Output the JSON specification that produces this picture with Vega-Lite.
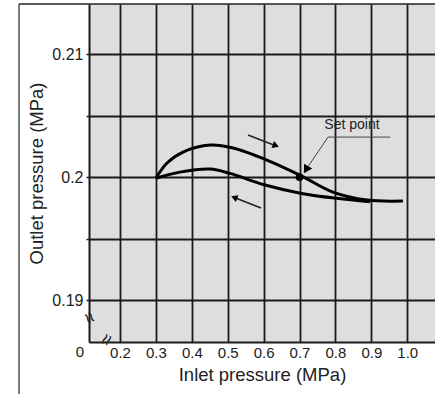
{
  "$schema": "https://vega.github.io/schema/vega-lite/v6.json",
  "width": 346,
  "height": 338,
  "autosize": "none",
  "padding": {"left": 89, "top": 4, "right": 0, "bottom": 52},
  "background": "white",
  "config": {
    "view": {"fill": "#dedede", "stroke": null},
    "font": "Liberation Sans"
  },
  "datasets": {
    "curves": [
      {"branch": "up", "x": 0.3, "y": 0.1999},
      {"branch": "up", "x": 0.331, "y": 0.20114},
      {"branch": "up", "x": 0.3755, "y": 0.20203},
      {"branch": "up", "x": 0.451, "y": 0.2026},
      {"branch": "up", "x": 0.515, "y": 0.20236},
      {"branch": "up", "x": 0.609, "y": 0.20138},
      {"branch": "up", "x": 0.705, "y": 0.2001},
      {"branch": "up", "x": 0.793, "y": 0.19878},
      {"branch": "up", "x": 0.888, "y": 0.19813},
      {"branch": "up", "x": 0.988, "y": 0.19805},
      {"branch": "down", "x": 0.3, "y": 0.1999},
      {"branch": "down", "x": 0.367, "y": 0.2004},
      {"branch": "down", "x": 0.451, "y": 0.20065},
      {"branch": "down", "x": 0.506, "y": 0.2003},
      {"branch": "down", "x": 0.604, "y": 0.19935},
      {"branch": "down", "x": 0.706, "y": 0.19867},
      {"branch": "down", "x": 0.804, "y": 0.19827},
      {"branch": "down", "x": 0.896, "y": 0.198}
    ]
  },
  "layer": [
    {
      "data": {"values": [{"x": -0.0813, "y": 0.18236, "y2": 0.21407}]},
      "mark": {"type": "rule", "color": "#222", "strokeWidth": 1.2, "clip": false},
      "encoding": {
        "x": {"field": "x", "type": "quantitative", "scale": {"domain": [0.1136, 1.0774], "zero": false, "nice": false},
          "axis": {"values": [0.2, 0.3, 0.4, 0.5, 0.6, 0.7, 0.8, 0.9, 1.0], "format": ".1f", "title": "Inlet pressure (MPa)",
            "grid": true, "gridColor": "#1a1a1a", "gridWidth": 1.8, "domainColor": "#1a1a1a", "domainWidth": 2,
            "ticks": false, "labelPadding": 3, "labelFontSize": 15, "labelColor": "#222",
            "titleFontSize": 18.5, "titleFontWeight": "normal", "titleColor": "#222", "titlePadding": 5}},
        "y": {"field": "y", "type": "quantitative", "scale": {"domain": [0.18659, 0.21407], "zero": false, "nice": false},
          "axis": {"values": [0.19, 0.195, 0.2, 0.205, 0.21],
            "labelExpr": "(datum.value > 0.194 && datum.value < 0.196) || (datum.value > 0.204 && datum.value < 0.206) ? '' : format(datum.value, '.2~f')",
            "title": "Outlet pressure (MPa)",
            "grid": true, "gridColor": "#1a1a1a", "gridWidth": 1.8, "domainColor": "#1a1a1a", "domainWidth": 2,
            "ticks": true, "tickSize": 3, "tickColor": "#1a1a1a", "tickWidth": 1.5,
            "labelPadding": 3, "labelFontSize": 16, "labelColor": "#222",
            "titleFontSize": 18.5, "titleFontWeight": "normal", "titleColor": "#222", "titlePadding": 5}},
        "y2": {"field": "y2"}
      }
    },
    {
      "data": {"values": [{"x": -0.0813, "x2": 1.0774, "y": 0.21407}]},
      "mark": {"type": "rule", "color": "#222", "strokeWidth": 1.5, "clip": false},
      "encoding": {
        "x": {"field": "x", "type": "quantitative"},
        "x2": {"field": "x2"},
        "y": {"field": "y", "type": "quantitative"}
      }
    },
    {
      "data": {"name": "curves"},
      "mark": {"type": "line", "color": "black", "strokeWidth": 3, "interpolate": "catmull-rom"},
      "encoding": {
        "x": {"field": "x", "type": "quantitative"},
        "y": {"field": "y", "type": "quantitative"},
        "detail": {"field": "branch"}
      }
    },
    {
      "data": {"values": [{"x": 0.7, "y": 0.2}]},
      "mark": {"type": "point", "filled": true, "color": "black", "size": 60, "opacity": 1},
      "encoding": {
        "x": {"field": "x", "type": "quantitative"},
        "y": {"field": "y", "type": "quantitative"}
      }
    },
    {
      "data": {"values": [
        {"seg": "a", "x": 0.5565, "y": 0.20341, "x2": 0.632, "y2": 0.20257},
        {"seg": "b", "x": 0.593, "y": 0.19748, "x2": 0.52, "y2": 0.19832}
      ]},
      "mark": {"type": "rule", "color": "#222", "strokeWidth": 1.6},
      "encoding": {
        "x": {"field": "x", "type": "quantitative"},
        "y": {"field": "y", "type": "quantitative"},
        "x2": {"field": "x2"},
        "y2": {"field": "y2"}
      }
    },
    {
      "data": {"values": [{"x": 0.634, "y": 0.20255}]},
      "mark": {"type": "point", "shape": "triangle-right", "angle": 21, "filled": true, "color": "black", "size": 55, "opacity": 1},
      "encoding": {
        "x": {"field": "x", "type": "quantitative"},
        "y": {"field": "y", "type": "quantitative"}
      }
    },
    {
      "data": {"values": [{"x": 0.518, "y": 0.19834}]},
      "mark": {"type": "point", "shape": "triangle-left", "angle": 21, "filled": true, "color": "black", "size": 55, "opacity": 1},
      "encoding": {
        "x": {"field": "x", "type": "quantitative"},
        "y": {"field": "y", "type": "quantitative"}
      }
    },
    {
      "data": {"values": [
        {"o": 1, "x": 0.9526, "y": 0.20325},
        {"o": 2, "x": 0.7794, "y": 0.20325},
        {"o": 3, "x": 0.725, "y": 0.2009}
      ]},
      "mark": {"type": "line", "color": "#444", "strokeWidth": 1},
      "encoding": {
        "x": {"field": "x", "type": "quantitative"},
        "y": {"field": "y", "type": "quantitative"},
        "order": {"field": "o"}
      }
    },
    {
      "data": {"values": [{"x": 0.718, "y": 0.2006}]},
      "mark": {"type": "point", "shape": "triangle-down", "angle": 31, "filled": true, "color": "black", "size": 90, "opacity": 1},
      "encoding": {
        "x": {"field": "x", "type": "quantitative"},
        "y": {"field": "y", "type": "quantitative"}
      }
    },
    {
      "data": {"values": [{"x": 0.846, "y": 0.20423, "t": "Set point"}]},
      "mark": {"type": "text", "fontSize": 14, "color": "#222", "align": "center", "baseline": "middle"},
      "encoding": {
        "x": {"field": "x", "type": "quantitative"},
        "y": {"field": "y", "type": "quantitative"},
        "text": {"field": "t"}
      }
    },
    {
      "data": {"values": [{"x": 0.0886, "y": 0.18577, "t": "0"}]},
      "mark": {"type": "text", "fontSize": 15, "color": "#222", "align": "center", "baseline": "middle", "clip": false},
      "encoding": {
        "x": {"field": "x", "type": "quantitative"},
        "y": {"field": "y", "type": "quantitative"},
        "text": {"field": "t"}
      }
    },
    {
      "data": {"values": [{"x": 0.1136, "y": 0.18854, "t": "≈"}]},
      "mark": {"type": "text", "fontSize": 20, "color": "#222", "align": "center", "baseline": "middle", "angle": 60, "clip": false},
      "encoding": {
        "x": {"field": "x", "type": "quantitative"},
        "y": {"field": "y", "type": "quantitative"},
        "text": {"field": "t"}
      }
    },
    {
      "data": {"values": [{"x": 0.1638, "y": 0.18675, "t": "≈"}]},
      "mark": {"type": "text", "fontSize": 20, "color": "#222", "align": "center", "baseline": "middle", "angle": -65, "clip": false},
      "encoding": {
        "x": {"field": "x", "type": "quantitative"},
        "y": {"field": "y", "type": "quantitative"},
        "text": {"field": "t"}
      }
    }
  ]
}
